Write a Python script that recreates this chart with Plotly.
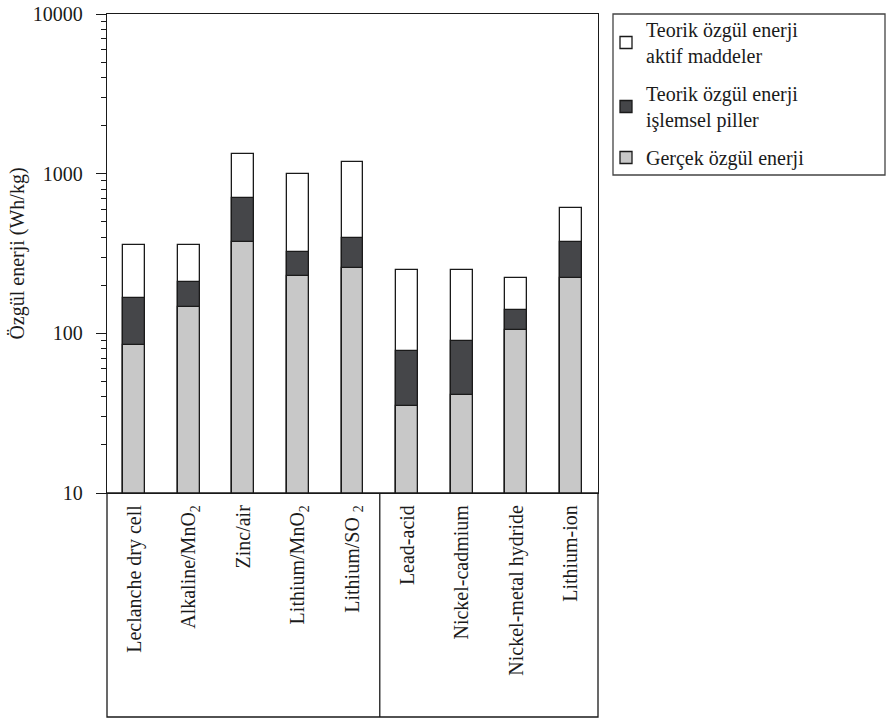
import plotly.graph_objects as go

# Battery systems (primary | rechargeable)
categories = [
    "Leclanche dry cell",
    "Alkaline/MnO<sub>2</sub>",
    "Zinc/air",
    "Lithium/MnO<sub>2</sub>",
    "Lithium/SO <sub>2</sub>",
    "Lead-acid",
    "Nickel-cadmium",
    "Nickel-metal hydride",
    "Lithium-ion",
]
n_primary = 5

# Specific energy, Wh/kg
theoretical_active = [358, 358, 1320, 1000, 1190, 250, 250, 223, 612]
theoretical_practical = [166, 209, 702, 322, 398, 77, 89, 140, 372]
actual = [85, 146, 375, 228, 257, 35, 41, 105, 223]

series_names = [
    "Teorik özgül enerji<br>aktif maddeler",
    "Teorik özgül enerji<br>işlemsel piller",
    "Gerçek özgül enerji",
]
series_values = [theoretical_active, theoretical_practical, actual]
series_colors = ["#ffffff", "#454649", "#c8c8c8"]

y_major = [10, 100, 1000, 10000]
y_minor = [m * 10 ** e for e in range(1, 4) for m in range(2, 10)]

FONT = "Liberation Serif"
INK = "#1a1a1a"
FS = 20

W, H = 886, 718
ML, MR, MT, MB = 107, 288, 14, 225
PW, PH = W - ML - MR, H - MT - MB


def px_x(x):
    return (x - ML) / PW


def px_y(y):
    return (H - MB - y) / PH


x_idx = list(range(len(categories)))

fig = go.Figure()
for name, vals, col in zip(series_names, series_values, series_colors):
    fig.add_trace(go.Bar(
        x=x_idx, y=vals, name=name, width=0.4,
        marker=dict(color=col, line=dict(color=INK, width=1.3)),
        legendgroup=name,
    ))

shapes = [
    # frame around the category labels
    dict(type="rect", xref="paper", yref="paper",
         x0=0, x1=1, y0=px_y(717), y1=0,
         line=dict(color=INK, width=1.3)),
    # divider between primary and rechargeable systems
    dict(type="line", xref="x", yref="paper",
         x0=n_primary - 0.5, x1=n_primary - 0.5, y0=px_y(717), y1=0,
         line=dict(color=INK, width=1.3)),
    # legend frame
    dict(type="rect", xref="paper", yref="paper",
         x0=px_x(613), x1=px_x(885), y0=px_y(175), y1=px_y(14),
         line=dict(color="#444444", width=1.3)),
]

fig.update_layout(
    template="none",
    width=W, height=H, autosize=False,
    margin=dict(l=ML, r=MR, t=MT, b=MB, pad=0, autoexpand=False),
    paper_bgcolor="white", plot_bgcolor="white",
    barmode="overlay", bargap=0,
    font=dict(family=FONT, size=FS, color=INK),
    showlegend=True,
    legend=dict(
        x=px_x(606), y=px_y(10), xanchor="left", yanchor="top",
        bgcolor="rgba(0,0,0,0)", borderwidth=0,
        traceorder="grouped", tracegroupgap=9,
        font=dict(family=FONT, size=FS, color=INK),
    ),
    shapes=shapes,
    xaxis=dict(
        range=[-0.5, len(categories) - 0.5], automargin=False,
        tickmode="array", tickvals=x_idx, ticktext=categories,
        tickangle=-90, ticks="", ticklabelstandoff=3,
        showline=True, linecolor=INK, linewidth=1.3, mirror=True,
        showgrid=False, zeroline=False, fixedrange=True,
        tickfont=dict(family=FONT, size=FS, color=INK),
    ),
    yaxis=dict(
        type="log", range=[1, 4], automargin=False,
        tickmode="array", tickvals=y_major, ticktext=[str(v) for v in y_major],
        ticks="outside", ticklen=10, tickwidth=1.3, tickcolor=INK,
        minor=dict(tickmode="array", tickvals=y_minor, ticks="outside",
                   ticklen=5, tickwidth=1.3, tickcolor=INK, showgrid=False),
        ticklabelstandoff=9,
        showline=True, linecolor=INK, linewidth=1.3, mirror=True,
        showgrid=False, zeroline=False,
        tickfont=dict(family=FONT, size=FS, color=INK),
        title=dict(text="Özgül enerji (Wh/kg)", standoff=2,
                   font=dict(family=FONT, size=FS, color=INK)),
    ),
)

fig.write_html("out.html")
